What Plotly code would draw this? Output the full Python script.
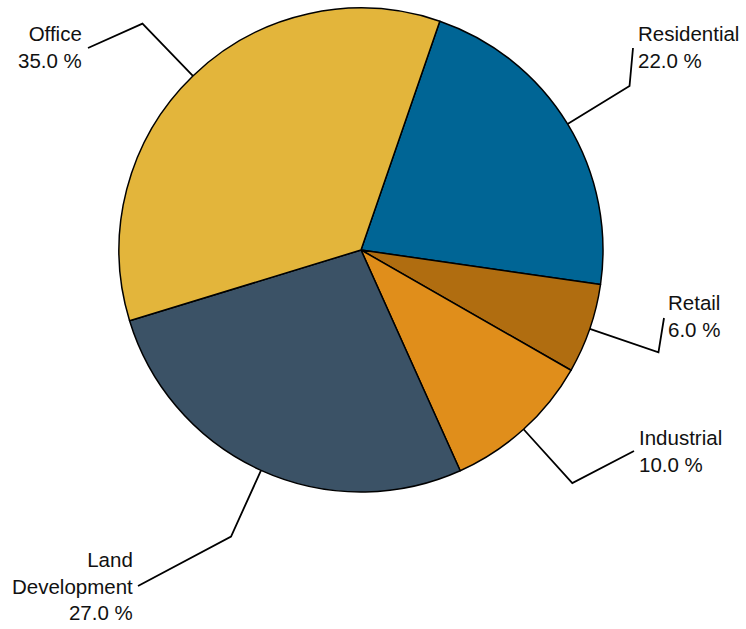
import math
import plotly.graph_objects as go

# ---- data ----
categories = ["Residential", "Retail", "Industrial", "Land Development", "Office"]
label_text = ["Residential", "Retail", "Industrial", "Land<br>Development", "Office"]
shares = [22.0, 6.0, 10.0, 27.0, 35.0]
colors = ["#006595", "#B06D10", "#E08E1B", "#3B5266", "#E3B53B"]

# ---- layout constants (pixels) ----
W, H = 746, 629
CX, CY, R = 361, 250, 242
ROTATION = 19
KNEE = 1.3
# where each leader line ends (near the label) and where the label sits
line_end = [(633, 48), (664, 318), (634, 451), (138, 586), (88, 48)]
label_pos = [(636, 47, "left"), (666, 316, "left"), (637, 451, "left"),
             (135, 586, "right"), (84, 47, "right")]

fig = go.Figure()
fig.add_trace(go.Pie(
    labels=categories, values=shares, sort=False, direction="clockwise",
    rotation=ROTATION, marker=dict(colors=colors, line=dict(color="black", width=1.5)),
    textinfo="none", hoverinfo="label+percent", showlegend=False,
    domain=dict(x=[(CX - R) / W, (CX + R) / W], y=[1 - (CY + R) / H, 1 - (CY - R) / H]),
))

total = sum(shares)
xs, ys = [], []
cum = 0.0
for v, end in zip(shares, line_end):
    mid = math.radians(ROTATION + (cum + v / 2) / total * 360)
    cum += v
    dx, dy = math.sin(mid), -math.cos(mid)
    xs += [CX + R * dx, CX + R * KNEE * dx, end[0], None]
    ys += [CY + R * dy, CY + R * KNEE * dy, end[1], None]

fig.add_trace(go.Scatter(x=xs, y=ys, mode="lines", line=dict(color="black", width=1.8),
                         hoverinfo="skip", showlegend=False))

for lab, v, (lx, ly, side) in zip(label_text, shares, label_pos):
    fig.add_annotation(x=lx, y=ly, xref="x", yref="y", text=f"{lab}<br>{v:.1f} %",
                       showarrow=False, xanchor=side, yanchor="middle", align=side,
                       font=dict(family="Liberation Sans Narrow, Arial Narrow, Liberation Sans, Arial",
                                 size=20.5, color="#111111"))

fig.update_layout(
    width=W, height=H, margin=dict(l=0, r=0, t=0, b=0),
    paper_bgcolor="white", plot_bgcolor="rgba(0,0,0,0)",
    xaxis=dict(range=[0, W], visible=False, fixedrange=True, domain=[0, 1]),
    yaxis=dict(range=[H, 0], visible=False, fixedrange=True, domain=[0, 1]),
)

fig.write_html("out.html", config={"displayModeBar": False},
               post_script="document.body.style.margin='0';document.body.style.overflow='hidden';")
